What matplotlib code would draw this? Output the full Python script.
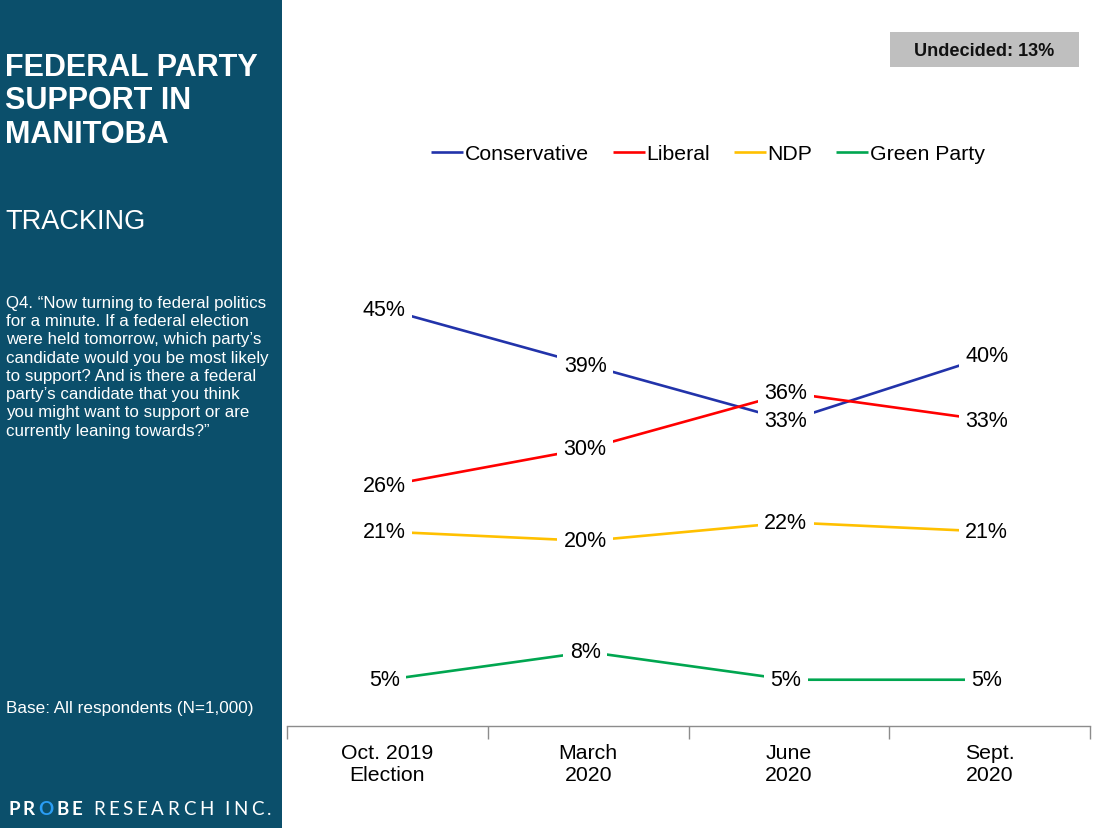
import matplotlib
matplotlib.use("Agg")
import matplotlib.pyplot as plt
from matplotlib.patches import Rectangle

plt.rcParams['font.family'] = ['Liberation Sans', 'DejaVu Sans']

# data
waves = ["Oct. 2019\nElection", "March\n2020", "June\n2020", "Sept.\n2020"]
conservative = [45, 39, 33, 40]
liberal = [26, 30, 36, 33]
ndp = [21, 20, 22, 21]
green = [5, 8, 5, 5]
party_names = ["Conservative", "Liberal", "NDP", "Green Party"]
party_colors = ["#2233aa", "#ff0000", "#ffc000", "#00a650"]
undecided = 13

W, H = 1098, 829
fig = plt.figure(figsize=(W / 100, H / 100), dpi=100)

# left side panel
panel = "#0b4f6b"
fig.patches.append(Rectangle((0, 0), 282 / W, 1, transform=fig.transFigure,
                             facecolor=panel, edgecolor="none", zorder=0))
fig.text(5 / W, 1 - 53 / H, "FEDERAL PARTY\nSUPPORT IN\nMANITOBA", color="white",
         fontsize=22.0, fontweight="bold", va="top", ha="left", linespacing=1.15)
fig.text(5 / W, 1 - 222 / H, "TRACKING", color="white", fontsize=19.5,
         va="center", ha="left")
question = ("Q4. \u201cNow turning to federal politics\n"
            "for a minute. If a federal election\n"
            "were held tomorrow, which party\u2019s\n"
            "candidate would you be most likely\n"
            "to support? And is there a federal\n"
            "party\u2019s candidate that you think\n"
            "you might want to support or are\n"
            "currently leaning towards?\u201d")
fig.text(6 / W, 1 - 296 / H, question, color="white", fontsize=12.2,
         va="top", ha="left", linespacing=1.27)
fig.text(6 / W, 1 - 709 / H, "Base: All respondents (N=1,000)", color="white",
         fontsize=12.3, va="center", ha="left")

# logo, letter by letter
renderer = fig.canvas.get_renderer()
x = 8
logo = [("P", "bold", "white"), ("R", "bold", "white"), ("O", "bold", "#2a9df4"),
        ("B", "bold", "white"), ("E", "bold", "white"), (" ", "normal", "white")]
logo += [(c, "normal", "white") for c in "RESEARCH INC."]
for ch, wt, col in logo:
    t = fig.text(x / W, 1 - 810 / H, ch, color=col, fontsize=13.5, fontweight=wt,
                 family=["Lato", "DejaVu Sans"], va="center", ha="left")
    if ch == " ":
        x += 7
    elif wt == "bold":
        x += t.get_window_extent(renderer).width + 3.2
    else:
        x += t.get_window_extent(renderer).width + 3.6

# undecided box
fig.patches.append(Rectangle((890 / W, 1 - 68 / H), 189 / W, 35 / H,
                             transform=fig.transFigure, facecolor="#bfbfbf",
                             edgecolor="none"))
fig.text(984 / W, 1 - 51 / H, f"Undecided: {undecided}%", fontsize=13.1,
         fontweight="bold", ha="center", va="center", color="#111111")

# main chart
ax = fig.add_axes([287 / W, 1 - 727 / H, 803 / W, 447 / H])
xs = list(range(len(waves)))
series = [conservative, liberal, ndp, green]
for vals, name, col in zip(series, party_names, party_colors):
    ax.plot(xs, vals, color=col, lw=1.9, label=name, zorder=2,
            solid_capstyle="butt")
    for xi, v in zip(xs, vals):
        ax.text(xi - 0.015, v, f"{v}%", ha="center", va="center", fontsize=15.5,
                color="black", zorder=3,
                bbox=dict(boxstyle="square,pad=0.3", facecolor="white",
                          edgecolor="none"))

ax.set_xlim(-0.5, len(waves) - 0.5)
ax.set_ylim(0, 48.3)
for s in ["top", "right", "left"]:
    ax.spines[s].set_visible(False)
ax.spines["bottom"].set_color("#8c8c8c")
ax.spines["bottom"].set_linewidth(1.0)
ax.set_yticks([])
ax.set_xticks(xs)
ax.set_xticklabels(waves, fontsize=15.3, linespacing=1.22)
ax.tick_params(axis="x", which="major", length=0, pad=12)
ax.set_xticks([i - 0.5 for i in range(len(waves) + 1)], minor=True)
ax.tick_params(axis="x", which="minor", length=9, color="#8c8c8c", width=1.0)

fig.legend(loc="center", bbox_to_anchor=(708 / W, 1 - 155 / H), ncol=4,
           frameon=False, fontsize=15.3, handlelength=1.5, handletextpad=0.1,
           columnspacing=1.1)

fig.savefig("out.png", dpi=100)
